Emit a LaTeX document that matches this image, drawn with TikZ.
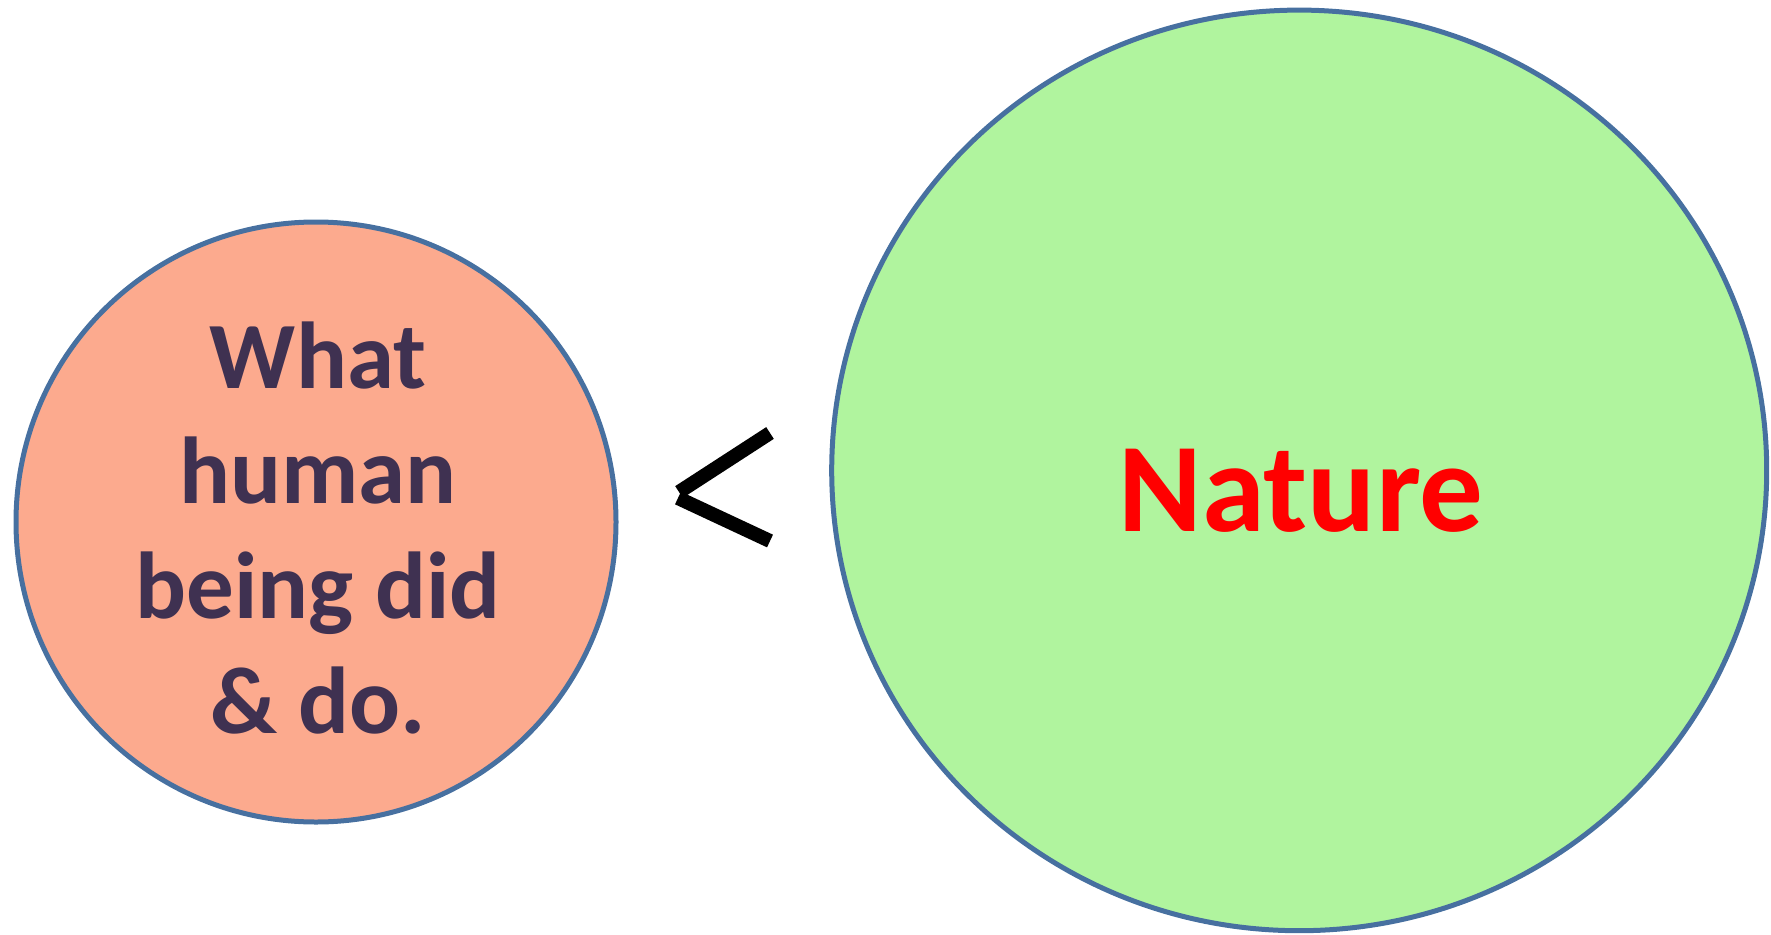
\documentclass[tikz,border=0pt]{standalone}
\usepackage{fontspec}
\setmainfont{Carlito}
\usetikzlibrary{shapes.geometric}
\definecolor{edgeblue}{RGB}{71,112,160}
\definecolor{peach}{RGB}{252,170,142}
\definecolor{leaf}{RGB}{176,244,158}
\definecolor{plum}{RGB}{63,49,81}
\definecolor{natred}{RGB}{255,0,0}
\tikzset{
  bubble/.style={draw=edgeblue, line width=5pt, inner sep=0pt},
  humantext/.style={text=plum, font=\fontsize{95}{115}\selectfont\bfseries, anchor=base, inner sep=0pt},
  naturetext/.style={text=natred, font=\fontsize{127}{150}\selectfont\bfseries, anchor=base, inner sep=0pt},
  lessthan/.style={line width=14pt, line cap=butt, black}
}
\begin{document}
\begin{tikzpicture}[x=1pt,y=-1pt]
\useasboundingbox (0,0) rectangle (1771,934);
\node[bubble, circle, fill=peach, minimum size=600pt] (human) at (316,522) {};
\node[bubble, ellipse, fill=leaf, minimum width=935pt, minimum height=920.6pt] (nature) at (1299.2,470.4) {};
\node[humantext] (l1) at (318,388.5) {What};
\node[humantext] (l2) at (318,503) {human};
\node[humantext] (l3) at (318,618) {being did};
\node[humantext] (l4) at (318,733) {\& do.};
\node[naturetext] (nt) at (1301,531) {Nature};
\coordinate (ltup) at (770,433);
\coordinate (ltupl) at (679,492);
\coordinate (ltlow) at (770,541);
\coordinate (ltlowl) at (678,498);
\draw[lessthan] (ltupl) -- (ltup);
\draw[lessthan] (ltlowl) -- (ltlow);
\end{tikzpicture}
\end{document}
